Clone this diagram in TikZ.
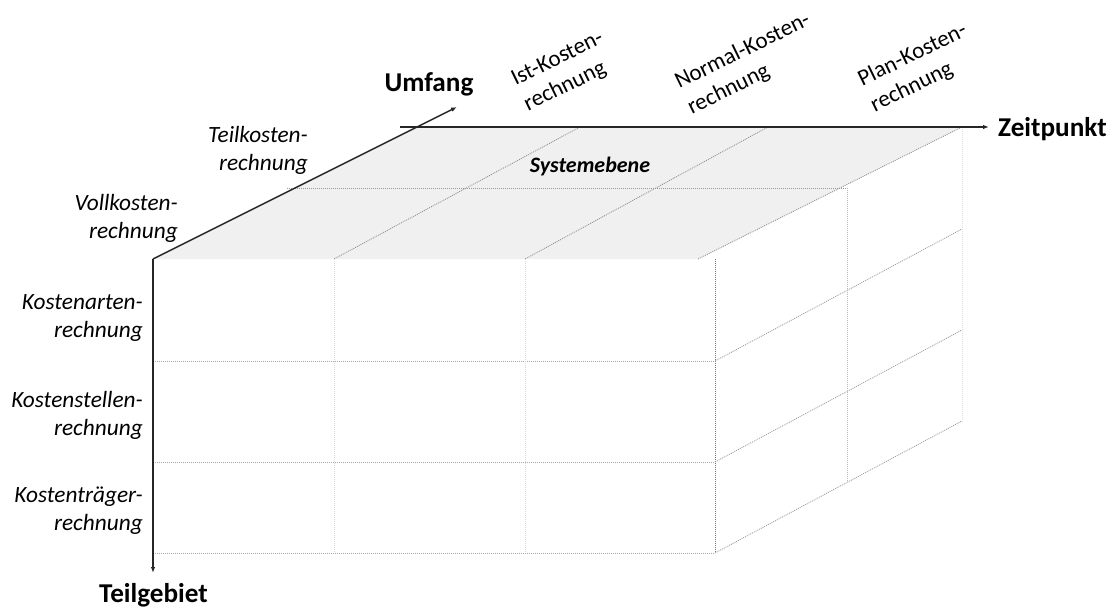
\documentclass[tikz,border=0pt]{standalone}
\usepackage{fontspec}
\setmainfont{Carlito}
\usetikzlibrary{arrows.meta}
\begin{document}
\begin{tikzpicture}[x=1pt,y=-1pt,
  axis/.style={line width=1.5pt, draw=black!85, -{Latex[length=6pt,width=4.5pt]}},
  gridline/.style={line width=0.8pt, dash pattern=on 1pt off 1pt, draw=#1},
  gridline/.default=black!40,
  sidelab/.style={font=\fontsize{23.3}{28}\selectfont\itshape, align=right, anchor=east, inner sep=0pt},
  axlab/.style={font=\fontsize{27.2}{31}\selectfont\bfseries, inner sep=0pt},
  rotlab/.style={font=\fontsize{23}{28.5}\selectfont, align=left, rotate=26, inner sep=0pt}]
\useasboundingbox (0,0) rectangle (1120,607);

% cube corners
\coordinate (O) at (153,259);
\coordinate (umf) at (457,107);
\coordinate (zs) at (400,127);
\coordinate (ze) at (989,127);
\coordinate (tg) at (153,573);

% top face (shaded)
\fill[black!6] (O) -- (698,259) -- (962,127) -- (417,127) -- cycle;

% top face divisions
\draw[gridline=black!45] (334,259) -- (580,127);
\draw[gridline=black!45] (525,259) -- (768,127);
\draw[gridline=black!45] (698,259) -- (962,127);
\draw[gridline=black!40] (287,188) -- (847,188);

% front face
\foreach \y in {361,462,553}
  \draw[gridline=black!35] (153,\y) -- (715,\y);
\foreach \x in {334,525}
  \draw[gridline=black!15] (\x,259) -- (\x,553);
\draw[gridline=black!55] (715,259) -- (715,553);

% right face
\foreach \y in {361,462,553}
  \draw[gridline=black!40] (715,\y) -- ++(247,-132);
\draw[gridline=black!28] (847,188) -- (847,482);
\draw[gridline=black!12] (962,127) -- (962,422);

% axes
\draw[axis] (O) -- (umf);
\draw[axis] (zs) -- (ze);
\draw[axis] (O) -- (tg);

% axis titles
\node[axlab] (lumf) at (429,84) {Umfang};
\node[axlab, anchor=west] (lzeit) at (998,129) {Zeitpunkt};
\node[axlab] (lteil) at (153.5,595) {Teilgebiet};

% scope labels
\node[sidelab] (voll) at (178,218) {Vollkosten-\\rechnung};
\node[sidelab] (teilk) at (308,150) {Teilkosten-\\rechnung};

% area labels
\node[sidelab] (arten) at (143,318) {Kostenarten-\\rechnung};
\node[sidelab] (stellen) at (143,415) {Kostenstellen-\\rechnung};
\node[sidelab] (traeger) at (143,511) {Kostenträger-\\rechnung};

% time labels
\node[rotlab] (ist) at (564,72) {Ist-Kosten-\\rechnung};
\node[rotlab] (normal) at (749,64) {Normal-Kosten-\\rechnung};
\node[rotlab] (plan) at (919,68) {Plan-Kosten-\\rechnung};

% level label
\node[font=\fontsize{22}{26}\selectfont\bfseries\itshape, inner sep=0pt] (sys) at (590,167) {Systemebene};
\end{tikzpicture}
\end{document}
